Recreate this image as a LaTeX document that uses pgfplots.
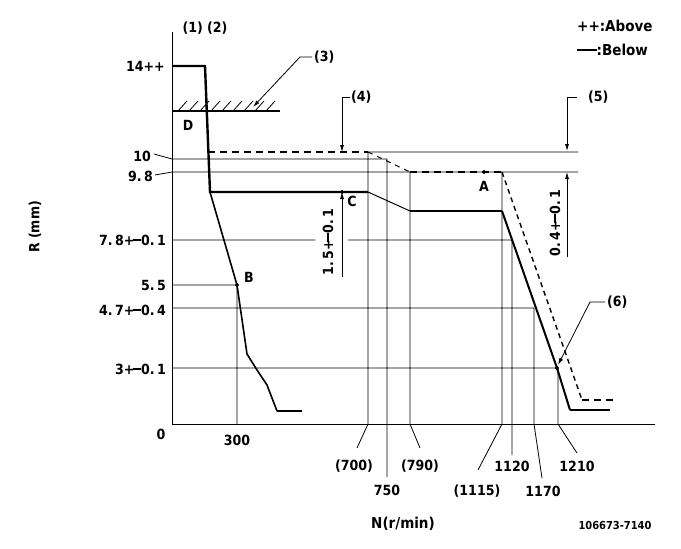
\documentclass[border=0pt]{standalone}
\usepackage{fontspec}
\setmainfont{DejaVu Sans Condensed}
\usepackage{pgfplots}
\pgfplotsset{compat=1.18}
\usetikzlibrary{arrows.meta}
\newcommand{\pmx}{+\kern-0.12em\rule[0.32em]{0.6em}{0.09em}}
\tikzset{lb/.style={font=\fontsize{14}{16}\selectfont\bfseries, inner sep=0pt}}
\begin{document}
\begin{tikzpicture}
\begin{axis}[
  width=681pt, height=549pt, scale only axis,
  xmin=0, xmax=681, ymin=0, ymax=549, y dir=reverse,
  hide axis, clip=false, unbounded coords=jump,
]
\path (axis cs:0,0) rectangle (axis cs:681,549);
% axes
\addplot[black, line width=0.9pt] coordinates {(172,32) (172,424) (655,424)};
% grid / reference lines
\addplot[black, line width=0.8pt] coordinates {
 (172,159) (387,159) (nan,nan)
 (172,172) (578,172) (nan,nan)
 (368,152) (578,152) (nan,nan)
 (172,240) (315,240) (nan,nan)
 (348,240) (512,240) (nan,nan)
 (172,285) (237,285) (nan,nan)
 (172,308) (534,308) (nan,nan)
 (172,368) (558,368) (nan,nan)
 (237,285) (237,424) (nan,nan)
 (368,152) (368,424) (357,448) (nan,nan)
 (387,159) (387,477) (nan,nan)
 (410,172) (410,424) (420,448) (nan,nan)
 (502,172) (502,424) (478,470) (nan,nan)
 (512,240) (512,455) (nan,nan)
 (534,308) (534,424) (542,478) (nan,nan)
 (558,368) (558,424) (577,453) (nan,nan)
 (154,154) (172,159) (nan,nan)
 (155,175) (172,172)
};
% hatched stop line (3)
\addplot[black, line width=2.4pt] coordinates {(172,111) (280,111)};
\addplot[black, line width=0.8pt] coordinates {
 (178,111) (187,101) (nan,nan) (189,111) (198,101) (nan,nan)
 (200,111) (209,101) (nan,nan) (211,111) (220,101) (nan,nan)
 (222,111) (231,101) (nan,nan) (233,111) (242,101) (nan,nan)
 (244,111) (253,101) (nan,nan) (255,111) (264,101) (nan,nan)
 (266,111) (275,101)
};
% solid characteristic
\addplot[black, line width=2.4pt] coordinates {(172,66) (205,66) (210,192) (368,192)};
\addplot[black, line width=1.6pt] coordinates {(210,192) (237,285) (247,354) (257,370) (267,385) (277,411)};
\addplot[black, line width=2.4pt] coordinates {(277,411) (302,411)};
\addplot[black, line width=1pt] coordinates {(368,192) (410,211)};
\addplot[black, line width=2.4pt] coordinates {(410,211) (502,211)};
\addplot[black, line width=2pt] coordinates {(502,211) (557,368) (570,410)};
\addplot[black, line width=2.4pt] coordinates {(570,410) (610,410)};
% dashed characteristic
\addplot[black, line width=2.4pt, dash pattern=on 7pt off 5pt] coordinates {(208,152) (368,152)};
\addplot[black, line width=1pt, dash pattern=on 5pt off 5pt] coordinates {(368,152) (410,172)};
\addplot[black, line width=2.4pt, dash pattern=on 7pt off 5pt] coordinates {(410,172) (502,172)};
\addplot[black, line width=1.4pt, dash pattern=on 5pt off 4pt] coordinates {(502,172) (582,400)};
\addplot[black, line width=2.4pt, dash pattern=on 7pt off 5pt] coordinates {(582,400) (617,400)};
% points
\addplot[black, only marks, mark=*, mark size=1.8pt] coordinates {(484,172) (342,192) (237,285) (557,368)};
% dimension arrows and leaders
\draw[line width=0.8pt] (axis cs:350,97) -- (axis cs:342,97);
\draw[line width=0.8pt, -{Latex[length=7pt,width=4pt]}] (axis cs:342,97) -- (axis cs:342,152);
\draw[line width=0.8pt, -{Latex[length=7pt,width=4pt]}] (axis cs:342,277) -- (axis cs:342,192);
\draw[line width=0.8pt] (axis cs:577,97) -- (axis cs:567,97);
\draw[line width=0.8pt, -{Latex[length=7pt,width=4pt]}] (axis cs:567,97) -- (axis cs:567,151);
\draw[line width=0.8pt, -{Latex[length=7pt,width=4pt]}] (axis cs:567,257) -- (axis cs:567,172);
\draw[line width=0.8pt, -{Latex[length=7pt,width=4pt]}] (axis cs:312,57) -- (axis cs:300,57) -- (axis cs:253,107);
\draw[line width=0.8pt, -{Latex[length=7pt,width=4pt]}] (axis cs:605,302) -- (axis cs:590,302) -- (axis cs:558,365);
% labels
\node[lb] at (axis cs:205,28) {(1) (2)};
\node[lb, anchor=east] at (axis cs:165,66) {14++};
\node[lb] at (axis cs:188,125) {D};
\node[lb, anchor=east] at (axis cs:151,156) {10};
\node[lb, anchor=east] at (axis cs:153,176) {9.\,8};
\node[lb, anchor=east] at (axis cs:166,240) {7.\,8\pmx0.\,1};
\node[lb, anchor=east] at (axis cs:166,285) {5.\,5};
\node[lb, anchor=east] at (axis cs:166,310) {4.\,7\pmx0.\,4};
\node[lb, anchor=east] at (axis cs:166,369) {3\pmx0.\,1};
\node[lb] at (axis cs:161,434) {0};
\node[lb] at (axis cs:237,440) {300};
\node[lb, rotate=90] at (axis cs:35,227) {R (mm)};
\node[lb, font=\fontsize{15}{17}\selectfont\bfseries] at (axis cs:403,524) {N(r/min)};
\node[lb, font=\fontsize{11}{13}\selectfont\bfseries] at (axis cs:615,525) {106673-7140};
\node[lb, anchor=west, font=\fontsize{15}{17}\selectfont\bfseries] at (axis cs:577,26) {++:Above};
\node[lb, anchor=west, font=\fontsize{15}{17}\selectfont\bfseries] at (axis cs:577,50) {\rule[0.32em]{1.3em}{0.09em}:Below};
\node[lb, anchor=west] at (axis cs:351,97) {(4)};
\node[lb, anchor=west] at (axis cs:588,97) {(5)};
\node[lb, anchor=west] at (axis cs:607,302) {(6)};
\node[lb, anchor=west] at (axis cs:314,57) {(3)};
\node[lb] at (axis cs:484,186) {A};
\node[lb] at (axis cs:352,201) {C};
\node[lb] at (axis cs:249,277) {B};
\node[lb, rotate=90] at (axis cs:328,242) {1.\,5\pmx0.\,1};
\node[lb, rotate=90] at (axis cs:555,223) {0.\,4\pmx0.\,1};
\node[lb] at (axis cs:354,466) {(700)};
\node[lb] at (axis cs:387,490) {750};
\node[lb] at (axis cs:420,466) {(790)};
\node[lb] at (axis cs:477,491) {(1115)};
\node[lb] at (axis cs:512,466) {1120};
\node[lb] at (axis cs:543,491) {1170};
\node[lb] at (axis cs:577,466) {1210};
\end{axis}
\end{tikzpicture}
\end{document}
